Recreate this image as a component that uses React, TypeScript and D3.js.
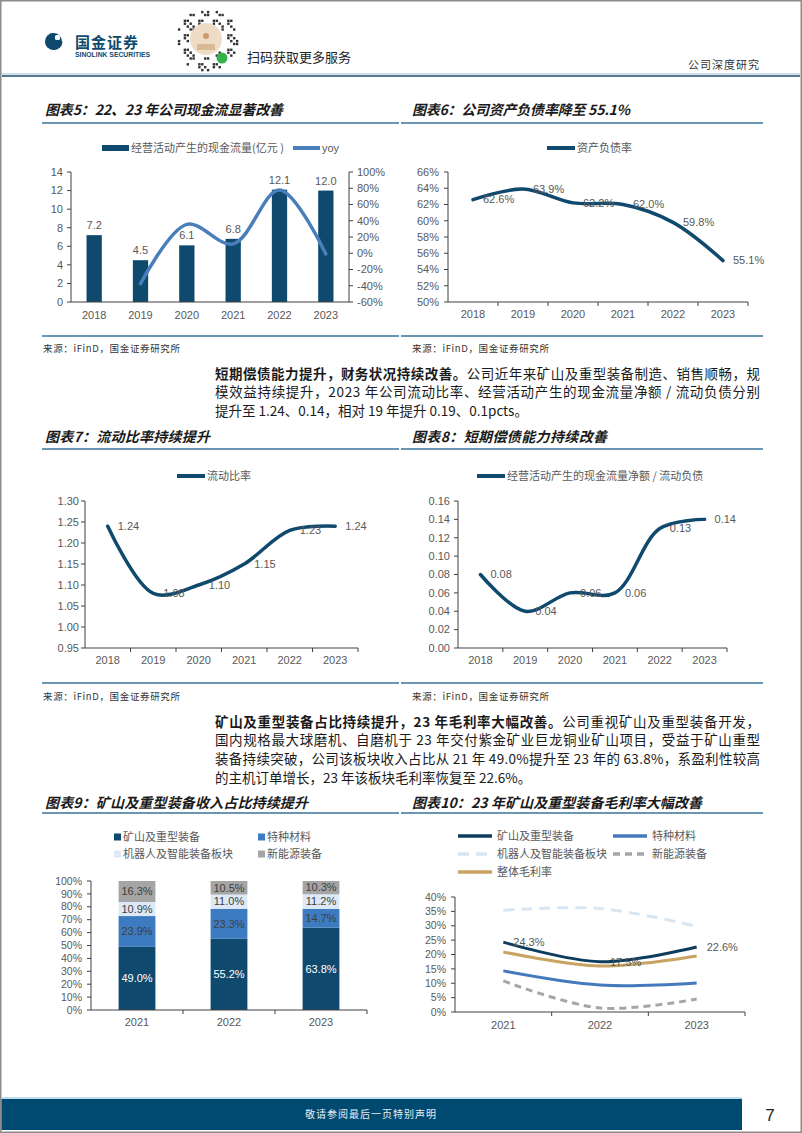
import React from 'react';
import * as d3 from 'd3';

// ---------- data ----------
const YEARS6 = ['2018', '2019', '2020', '2021', '2022', '2023'];
const YEARS3 = ['2021', '2022', '2023'];

// 图表5
const cashFlow = [7.2, 4.5, 6.1, 6.8, 12.1, 12.0];
const cashYoy = [NaN, -37.5, 35.6, 11.5, 77.9, -0.8];
const cashTicks = [0, 2, 4, 6, 8, 10, 12, 14];
const yoyTicks = [-60, -40, -20, 0, 20, 40, 60, 80, 100];

// 图表6
const debtRatio = [62.6, 63.9, 62.2, 62.0, 59.8, 55.1];
const debtTicks = [50, 52, 54, 56, 58, 60, 62, 64, 66];

// 图表7
const currentRatio = [1.24, 1.08, 1.10, 1.15, 1.23, 1.24];
const currentTicks = [0.95, 1.0, 1.05, 1.1, 1.15, 1.2, 1.25, 1.3];

// 图表8
const cfoToCl = [0.08, 0.04, 0.06, 0.06, 0.13, 0.14];
const cfoTicks = [0, 0.02, 0.04, 0.06, 0.08, 0.1, 0.12, 0.14, 0.16];

// 图表9
const mixNames = ['矿山及重型装备', '特种材料', '机器人及智能装备板块', '新能源装备'];
const mixMining = [49.0, 55.2, 63.8];
const mixMaterial = [23.9, 23.3, 14.7];
const mixRobot = [10.9, 11.0, 11.2];
const mixEnergy = [16.3, 10.5, 10.3];
const mixTicks = [0, 10, 20, 30, 40, 50, 60, 70, 80, 90, 100];

// 图表10
const gmNames = ['矿山及重型装备', '特种材料', '机器人及智能装备板块', '新能源装备', '整体毛利率'];
const gmMining = [24.3, 17.5, 22.6];
const gmMaterial = [14.3, 9.4, 10.1];
const gmRobot = [35.4, 36.0, 29.8];
const gmEnergy = [10.8, 1.4, 4.5];
const gmTotal = [20.9, 16.0, 19.5];
const gmTicks = [0, 5, 10, 15, 20, 25, 30, 35, 40];

// ---------- styles ----------
const CN = '"Noto Sans CJK SC", "Noto Sans", sans-serif';
const NUM = '"Liberation Sans", Arial, sans-serif';
const NAVY = '#0f4a6e';
const AX = '#404040';
const LBL = '#595959';
const RULE = '#6a96b3';

const curve = d3.curveCatmullRom.alpha(0.5);

function YAxis({ scale, x, ticks, fmt, side = 'left', size = 11, gap = 8 }: any) {
  const [r0, r1] = scale.range();
  const left = side === 'left';
  return (
    <g>
      <line x1={x} x2={x} y1={r0} y2={r1} stroke={AX} strokeWidth={1} />
      {ticks.map((t: number) => (
        <g key={t}>
          <line x1={x} x2={left ? x - 4 : x + 4} y1={scale(t)} y2={scale(t)} stroke={AX} />
          <text x={left ? x - gap : x + gap} y={scale(t)} dy="0.35em" textAnchor={left ? 'end' : 'start'}
            fontFamily={NUM} fontSize={size} fill={LBL}>{fmt(t)}</text>
        </g>
      ))}
    </g>
  );
}

function XAxis({ scale, y, ticks = true, labelDy = 13, size = 11 }: any) {
  const [a, b] = scale.range();
  const dom = scale.domain();
  const n = dom.length;
  const st = (b - a) / n;
  return (
    <g>
      <line x1={a} x2={b} y1={y} y2={y} stroke={AX} />
      {ticks && d3.range(1, n + 1).map((i) => (
        <line key={i} x1={a + i * st} x2={a + i * st} y1={y} y2={y + 4} stroke={AX} />
      ))}
      {dom.map((d: string, i: number) => (
        <text key={d} x={a + st * (i + 0.5)} y={y + labelDy} dy="0.35em" textAnchor="middle"
          fontFamily={NUM} fontSize={size} fill={LBL}>{d}</text>
      ))}
    </g>
  );
}

function Title({ x, y, text, width, ruleX1, ruleX2, ruleY }: any) {
  return (
    <g>
      <text x={x} y={y} dy="0.35em" fontFamily={CN} fontSize={14} fontWeight="bold" fontStyle="italic"
        fill="#1a1a1a" textLength={width} lengthAdjust="spacing">{text}</text>
      <line x1={ruleX1} x2={ruleX2} y1={ruleY} y2={ruleY} stroke={RULE} strokeWidth={2} />
    </g>
  );
}

function Source({ x, y }: any) {
  return (
    <text x={x} y={y} dy="0.35em" fontFamily={CN} fontSize={9.5} fill="#333" textLength={137} lengthAdjust="spacing">
      来源：iFinD，国金证券研究所
    </text>
  );
}

function SimpleLine({ cats, values, xr, yr, domain, ticks, fmt, labelFmt, legend, legendX, legendY, tickGap }: any) {
  const x = d3.scaleBand().domain(cats).range(xr).padding(0);
  const y = d3.scaleLinear().domain(domain).range(yr);
  const cx = (d: string) => (x(d) as number) + x.bandwidth() / 2;
  const pts = cats.map((c: string, i: number) => [c, values[i]]);
  const line = d3.line<any>().x((d) => cx(d[0])).y((d) => y(d[1])).curve(curve);
  return (
    <g>
      <line x1={legendX} x2={legendX + 28} y1={legendY} y2={legendY} stroke={NAVY} strokeWidth={4} />
      <text x={legendX + 30} y={legendY} dy="0.35em" fontFamily={CN} fontSize={11} fill={LBL}>{legend}</text>
      <YAxis scale={y} x={xr[0]} ticks={ticks} fmt={fmt} gap={tickGap} />
      <XAxis scale={x} y={yr[0]} labelDy={12} />
      <path d={line(pts) as string} fill="none" stroke={NAVY} strokeWidth={3.5} strokeLinecap="round" />
      {pts.map((p: any) => (
        <text key={p[0]} x={cx(p[0]) + 10} y={y(p[1])} dy="0.35em" fontFamily={NUM} fontSize={11} fill={LBL}>
          {labelFmt(p[1])}
        </text>
      ))}
    </g>
  );
}

function Chart5() {
  const x = d3.scaleBand().domain(YEARS6).range([71, 349]).paddingInner(0.67).paddingOuter(0.335);
  const y = d3.scaleLinear().domain([0, 14]).range([302, 172]);
  const yr = d3.scaleLinear().domain([-60, 100]).range([302, 172]);
  const cx = (d: string) => (x(d) as number) + x.bandwidth() / 2;
  const pts = YEARS6.map((c, i) => [c, cashYoy[i]]);
  const line = d3.line<any>().defined((d) => !isNaN(d[1])).x((d) => cx(d[0])).y((d) => yr(d[1])).curve(curve);
  return (
    <g>
      <rect x={102} y={145} width={27} height={6} fill={NAVY} />
      <text x={131} y={148} dy="0.35em" fontFamily={CN} fontSize={11} fill={LBL}>经营活动产生的现金流量(亿元 )</text>
      <line x1={293} x2={320} y1={148} y2={148} stroke="#4a7ebb" strokeWidth={4} />
      <text x={322} y={148} dy="0.35em" fontFamily={NUM} fontSize={11} fill={LBL}>yoy</text>
      {YEARS6.map((c, i) => (
        <g key={c}>
          <rect x={x(c)} y={y(cashFlow[i])} width={x.bandwidth()} height={302 - y(cashFlow[i])} fill={NAVY} />
          <text x={cx(c)} y={y(cashFlow[i]) - 6} textAnchor="middle" fontFamily={NUM} fontSize={11} fill={LBL}>
            {cashFlow[i].toFixed(1)}
          </text>
        </g>
      ))}
      <YAxis scale={y} x={71} ticks={cashTicks} fmt={(t: number) => String(t)} gap={8} />
      <YAxis scale={yr} x={349} ticks={yoyTicks} fmt={(t: number) => t + '%'} side="right" gap={8} />
      <XAxis scale={x} y={302} ticks={false} labelDy={13} />
      <path d={line(pts) as string} fill="none" stroke="#4a7ebb" strokeWidth={3.5} strokeLinecap="round" />
    </g>
  );
}

function Chart9() {
  const x = d3.scaleBand().domain(YEARS3).range([91, 367]).paddingInner(0.6).paddingOuter(0.3);
  const y = d3.scaleLinear().domain([0, 1]).range([1010, 881]);
  const yAx = d3.scaleLinear().domain([0, 100]).range([1010, 881]);
  const rows = YEARS3.map((c, i) => ({ year: c, a: mixMining[i], b: mixMaterial[i], c: mixRobot[i], d: mixEnergy[i] }));
  const keys = ['a', 'b', 'c', 'd'];
  const colors = ['#0f4a6e', '#3c7bbf', '#dde9f6', '#a5a5a5'];
  const textColors = ['#ffffff', '#404040', '#404040', '#404040'];
  const stacked = d3.stack<any>().keys(keys).offset(d3.stackOffsetExpand)(rows);
  const legendPos = [[114, 837], [258, 837], [114, 854], [258, 854]];
  return (
    <g>
      {mixNames.map((n, i) => (
        <g key={n}>
          <rect x={legendPos[i][0]} y={legendPos[i][1] - 3.5} width={7} height={7} fill={colors[i]} />
          <text x={legendPos[i][0] + 9} y={legendPos[i][1]} dy="0.35em" fontFamily={CN} fontSize={11} fill={LBL}>{n}</text>
        </g>
      ))}
      {stacked.map((s, k) => (
        <g key={k}>
          {s.map((seg: any) => {
            const yr = seg.data.year;
            const v = seg.data[keys[k]];
            return (
              <g key={yr}>
                <rect x={x(yr)} y={y(seg[1])} width={x.bandwidth()} height={y(seg[0]) - y(seg[1])} fill={colors[k]} />
                <text x={(x(yr) as number) + x.bandwidth() / 2} y={(y(seg[0]) + y(seg[1])) / 2} dy="0.35em"
                  textAnchor="middle" fontFamily={NUM} fontSize={11} fill={textColors[k]}>{v.toFixed(1)}%</text>
              </g>
            );
          })}
        </g>
      ))}
      <YAxis scale={yAx} x={91} ticks={mixTicks} fmt={(t: number) => t + '%'} gap={9} size={10.5} />
      <XAxis scale={x} y={1010} labelDy={12} />
    </g>
  );
}

function Chart10() {
  const x = d3.scaleBand().domain(YEARS3).range([455, 745]).padding(0);
  const y = d3.scaleLinear().domain([0, 40]).range([1012, 897]);
  const cx = (d: string) => (x(d) as number) + x.bandwidth() / 2;
  const line = d3.line<any>().x((d) => cx(d[0])).y((d) => y(d[1])).curve(curve);
  const series = [
    { name: gmNames[2], v: gmRobot, color: '#d9e6f2', dash: '11,7' },
    { name: gmNames[3], v: gmEnergy, color: '#a6a6a6', dash: '7,5' },
    { name: gmNames[1], v: gmMaterial, color: '#4579bd', dash: null },
    { name: gmNames[4], v: gmTotal, color: '#c8a361', dash: null },
    { name: gmNames[0], v: gmMining, color: '#0d3c5e', dash: null },
  ];
  const legend = [
    { name: gmNames[0], color: '#0d3c5e', dash: null, x: 458, y: 836 },
    { name: gmNames[1], color: '#4579bd', dash: null, x: 613, y: 836 },
    { name: gmNames[2], color: '#d9e6f2', dash: '11,7', x: 458, y: 854 },
    { name: gmNames[3], color: '#a6a6a6', dash: '7,5', x: 613, y: 854 },
    { name: gmNames[4], color: '#c8a361', dash: null, x: 458, y: 872 },
  ];
  return (
    <g>
      {legend.map((l) => (
        <g key={l.name}>
          <line x1={l.x} x2={l.x + 34} y1={l.y} y2={l.y} stroke={l.color} strokeWidth={3.5}
            strokeDasharray={l.dash || undefined} />
          <text x={l.x + 39} y={l.y} dy="0.35em" fontFamily={CN} fontSize={11} fill={LBL}>{l.name}</text>
        </g>
      ))}
      <YAxis scale={y} x={455} ticks={gmTicks} fmt={(t: number) => t + '%'} gap={9} size={10.5} />
      <XAxis scale={x} y={1012} labelDy={13} />
      {series.map((s) => (
        <path key={s.name} d={line(YEARS3.map((c, i) => [c, s.v[i]])) as string} fill="none" stroke={s.color}
          strokeWidth={3} strokeDasharray={s.dash || undefined} />
      ))}
      {YEARS3.map((c, i) => (
        <text key={c} x={cx(c) + 10} y={y(gmMining[i])} dy="0.35em" fontFamily={NUM} fontSize={11} fill={LBL}>
          {gmMining[i].toFixed(1)}%
        </text>
      ))}
    </g>
  );
}

function QR() {
  const cells: any[] = [];
  const cx = 206, cy = 39, R = 31;
  for (let i = 0; i < 22; i++) {
    for (let j = 0; j < 22; j++) {
      const px = cx - R + i * 2.9;
      const py = cy - R + j * 2.9;
      const d = Math.hypot(px - cx, py - cy);
      if (d > R || d < 17) continue;
      if (((i * 7 + j * 13 + i * j) % 5) < 2) cells.push(<rect key={i + '-' + j} x={px} y={py} width={2.4} height={2.4} fill="#333" />);
    }
  }
  return (
    <g>
      {cells}
      <circle cx={cx} cy={cy} r={16} fill="#efdcc6" />
      <circle cx={cx} cy={cy - 3} r={3} fill="#c89a70" />
      <rect x={cx - 9} y={cy + 5} width={18} height={6} fill="#d9b894" />
      <circle cx={222} cy={58} r={5.5} fill="#36b24a" />
    </g>
  );
}

function Header() {
  return (
    <g>
      <path d="M54,33 a8.5,8.5 0 1,0 8.5,8.5 l-4,0 a4.5,4.5 0 1,1 -4.5,-4.5 z" fill={NAVY} />
      <circle cx={53.5} cy={41.5} r={8.5} fill={NAVY} />
      <rect x={55} y={35} width={5} height={5} rx={1.5} fill="#fff" />
      <text x={75} y={43} dy="0.35em" fontFamily={CN} fontSize={15} fontWeight="bold" fill={NAVY} letterSpacing={1}>国金证券</text>
      <text x={75} y={55} dy="0.35em" fontFamily={NUM} fontSize={6.8} fontWeight="bold" fill={NAVY}>SINOLINK SECURITIES</text>
      <QR />
      <text x={247} y={57} dy="0.35em" fontFamily={CN} fontSize={13} fill="#222">扫码获取更多服务</text>
      <text x={760} y={65} dy="0.35em" textAnchor="end" fontFamily={CN} fontSize={11} fill="#333" letterSpacing={1}>公司深度研究</text>
      <line x1={2} x2={800} y1={74} y2={74} stroke="#9fbfd4" strokeWidth={1} />
      <line x1={2} x2={800} y1={76} y2={76} stroke="#1f4e6e" strokeWidth={1.5} />
    </g>
  );
}

function Para({ x, y, lines, lh, width }: any) {
  return (
    <g fontFamily={CN} fontSize={13.5} fill="#1a1a1a">
      {lines.map((l: any, i: number) => (
        <text key={i} x={x} y={y + i * lh} dy="0.35em" textLength={l.justify ? width : undefined}
          lengthAdjust="spacing">
          {l.bold ? <tspan fontWeight="bold">{l.bold}</tspan> : null}
          <tspan>{l.text}</tspan>
        </text>
      ))}
    </g>
  );
}

const para1 = [
  { bold: '短期偿债能力提升，财务状况持续改善。', text: '公司近年来矿山及重型装备制造、销售顺畅，规', justify: true },
  { text: '模效益持续提升，2023 年公司流动比率、经营活动产生的现金流量净额 / 流动负债分别', justify: true },
  { text: '提升至 1.24、0.14，相对 19 年提升 0.19、0.1pcts。' },
];
const para2 = [
  { bold: '矿山及重型装备占比持续提升，23 年毛利率大幅改善。', text: '公司重视矿山及重型装备开发，', justify: true },
  { text: '国内规格最大球磨机、自磨机于 23 年交付紫金矿业巨龙铜业矿山项目，受益于矿山重型', justify: true },
  { text: '装备持续突破，公司该板块收入占比从 21 年 49.0%提升至 23 年的 63.8%，系盈利性较高', justify: true },
  { text: '的主机订单增长，23 年该板块毛利率恢复至 22.6%。' },
];

export default function App() {
  return (
    <svg width={802} height={1133} style={{ position: 'absolute', left: 0, top: 0, background: '#fff' }}>
      <rect x={0.75} y={0.75} width={800.5} height={1131.5} fill="#fff" stroke="#8c8c8c" strokeWidth={1.5} />
      <Header />

      <Title x={45} y={110} text="图表5：22、23 年公司现金流显著改善" width={238} ruleX1={42} ruleX2={399} ruleY={123} />
      <Title x={412} y={110} text="图表6：公司资产负债率降至 55.1%" width={218} ruleX1={401} ruleX2={763} ruleY={123} />
      <Chart5 />
      <SimpleLine cats={YEARS6} values={debtRatio} xr={[448, 748]} yr={[302, 172]} domain={[50, 66]} ticks={debtTicks}
        fmt={(t: number) => t + '%'} labelFmt={(v: number) => v.toFixed(1) + '%'} legend="资产负债率" legendX={547} legendY={148} tickGap={9} />
      <line x1={42} x2={399} y1={336} y2={336} stroke={RULE} strokeWidth={2} />
      <line x1={401} x2={763} y1={336} y2={336} stroke={RULE} strokeWidth={2} />
      <Source x={43} y={349} />
      <Source x={412} y={349} />

      <Para x={215} y={374} lh={18.5} width={545} lines={para1} />

      <Title x={45} y={437} text="图表7：流动比率持续提升" width={165} ruleX1={42} ruleX2={399} ruleY={449} />
      <Title x={412} y={437} text="图表8：短期偿债能力持续改善" width={195} ruleX1={401} ruleX2={763} ruleY={449} />
      <SimpleLine cats={YEARS6} values={currentRatio} xr={[85, 358]} yr={[648, 501]} domain={[0.95, 1.3]} ticks={currentTicks}
        fmt={d3.format('.2f')} labelFmt={d3.format('.2f')} legend="流动比率" legendX={177} legendY={476} tickGap={6} />
      <SimpleLine cats={YEARS6} values={cfoToCl} xr={[458, 727]} yr={[648, 501]} domain={[0, 0.16]} ticks={cfoTicks}
        fmt={d3.format('.2f')} labelFmt={d3.format('.2f')} legend="经营活动产生的现金流量净额 / 流动负债" legendX={477} legendY={476} tickGap={8} />
      <line x1={42} x2={399} y1={683} y2={683} stroke={RULE} strokeWidth={2} />
      <line x1={401} x2={763} y1={683} y2={683} stroke={RULE} strokeWidth={2} />
      <Source x={43} y={697} />
      <Source x={412} y={697} />

      <Para x={215} y={722} lh={18.7} width={545} lines={para2} />

      <Title x={45} y={803} text="图表9：矿山及重型装备收入占比持续提升" width={263} ruleX1={42} ruleX2={399} ruleY={813} />
      <Title x={412} y={803} text="图表10：23 年矿山及重型装备毛利率大幅改善" width={290} ruleX1={401} ruleX2={763} ruleY={813} />
      <Chart9 />
      <Chart10 />

      <line x1={1.5} x2={742} y1={1098} y2={1098} stroke="#a9d3ea" strokeWidth={1.5} />
      <rect x={1.5} y={1099} width={740.5} height={31} fill="#004a72" />
      <text x={371} y={1114} dy="0.35em" textAnchor="middle" fontFamily={CN} fontSize={10} fill="#e8eef3" letterSpacing={1}>敬请参阅最后一页特别声明</text>
      <text x={770} y={1115} dy="0.35em" textAnchor="middle" fontFamily={NUM} fontSize={17} fill="#222">7</text>
    </svg>
  );
}
